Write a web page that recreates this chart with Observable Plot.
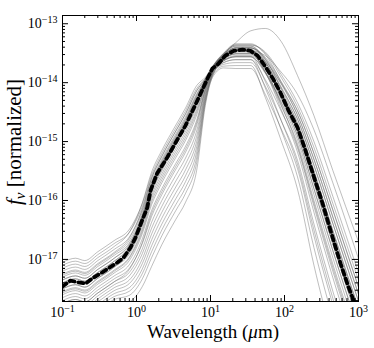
<!DOCTYPE html>
<html><head><meta charset="utf-8">
<script src="https://cdn.jsdelivr.net/npm/d3@7"></script>
<script src="https://cdn.jsdelivr.net/npm/@observablehq/plot@0.6"></script>
<style>body{margin:0;background:#fff}</style>
</head><body><div id="chart"></div>
<script>
// wavelength grid (micron) for the individual SEDs
const grid = [0.1,0.15,0.2,0.3,0.5,0.8,1.2,1.6,2.2,3.4,4.6,6.5,8.5,11,15,22,35,55,90,150,250,450,1000];
// log10 f_nu of the individual SEDs (gray)
const sed01 = [-17.05,-16.98,-17.02,-16.87,-16.68,-16.49,-16.05,-15.57,-15.20,-14.77,-14.48,-14.10,-13.93,-13.71,-13.54,-13.41,-13.41,-13.61,-14.07,-14.62,-15.40,-16.39,-17.71];
const sed02 = [-17.15,-17.08,-17.12,-16.97,-16.78,-16.54,-16.04,-15.52,-15.15,-14.72,-14.43,-14.05,-13.91,-13.70,-13.51,-13.36,-13.36,-13.50,-13.91,-14.41,-15.10,-16.05,-17.35];
const sed03 = [-17.20,-17.13,-17.17,-17.02,-16.83,-16.62,-16.16,-15.67,-15.30,-14.87,-14.58,-14.19,-13.96,-13.75,-13.60,-13.51,-13.51,-13.81,-14.34,-14.97,-15.90,-16.97,-18.31];
const sed04 = [-17.25,-17.18,-17.22,-17.07,-16.88,-16.64,-16.14,-15.62,-15.25,-14.82,-14.53,-14.14,-13.94,-13.71,-13.52,-13.38,-13.38,-13.60,-14.10,-14.69,-15.50,-16.51,-17.83];
const sed05 = [-17.30,-17.23,-17.27,-17.12,-16.93,-16.72,-16.26,-15.77,-15.40,-14.97,-14.68,-14.28,-13.99,-13.74,-13.57,-13.46,-13.46,-13.82,-14.45,-15.18,-16.20,-17.31,-18.67];
const sed06 = [-17.35,-17.28,-17.32,-17.17,-16.98,-16.74,-16.24,-15.72,-15.35,-14.92,-14.63,-14.23,-13.97,-13.70,-13.50,-13.34,-13.34,-13.52,-13.99,-14.55,-15.30,-16.28,-17.59];
const sed07 = [-17.40,-17.33,-17.37,-17.22,-17.03,-16.81,-16.33,-15.82,-15.45,-15.02,-14.73,-14.32,-14.00,-13.77,-13.63,-13.56,-13.56,-13.98,-14.64,-15.39,-16.50,-17.66,-19.03];
const sed08 = [-17.45,-17.38,-17.42,-17.27,-17.08,-16.86,-16.38,-15.87,-15.50,-15.07,-14.78,-14.37,-14.02,-13.73,-13.54,-13.41,-13.41,-13.65,-14.16,-14.76,-15.60,-16.62,-17.95];
const sed09 = [-17.50,-17.43,-17.47,-17.32,-17.13,-16.91,-16.43,-15.92,-15.55,-15.12,-14.83,-14.41,-14.03,-13.79,-13.66,-13.61,-13.61,-14.09,-14.80,-15.60,-16.80,-18.00,-19.39];
const sed10 = [-17.55,-17.48,-17.52,-17.37,-17.18,-16.96,-16.48,-15.97,-15.60,-15.17,-14.88,-14.46,-14.05,-13.72,-13.51,-13.36,-13.36,-13.48,-13.86,-14.34,-15.00,-15.93,-17.23];
const sed11 = [-17.60,-17.53,-17.57,-17.42,-17.23,-17.02,-16.56,-16.07,-15.70,-15.27,-14.98,-14.55,-14.08,-13.77,-13.60,-13.51,-13.51,-13.83,-14.39,-15.04,-16.00,-17.08,-18.43];
const sed12 = [-17.65,-17.58,-17.62,-17.47,-17.28,-17.09,-16.65,-16.17,-15.80,-15.37,-15.08,-14.64,-14.11,-13.76,-13.57,-13.46,-13.46,-13.66,-14.09,-14.62,-15.40,-16.39,-17.71];
const sed13 = [-17.70,-17.63,-17.67,-17.52,-17.33,-17.15,-16.73,-16.27,-15.90,-15.47,-15.18,-14.73,-14.14,-13.82,-13.69,-13.66,-13.66,-14.06,-14.64,-15.32,-16.40,-17.54,-18.91];
const sed14 = [-17.75,-17.68,-17.72,-17.57,-17.38,-17.22,-16.82,-16.37,-16.00,-15.57,-15.28,-14.82,-14.17,-13.75,-13.54,-13.41,-13.41,-13.57,-13.98,-14.48,-15.20,-16.16,-17.47];
const sed15 = [-17.80,-17.73,-17.77,-17.62,-17.43,-17.28,-16.90,-16.47,-16.10,-15.67,-15.38,-14.91,-14.20,-13.80,-13.63,-13.56,-13.56,-13.84,-14.32,-14.90,-15.80,-16.85,-18.19];
const sed16 = [-17.85,-17.78,-17.82,-17.67,-17.48,-17.35,-16.99,-16.57,-16.20,-15.77,-15.48,-15.00,-14.23,-13.85,-13.72,-13.71,-13.71,-14.25,-14.98,-15.81,-17.10,-18.35,-19.75];
const sed17 = [-17.90,-17.83,-17.87,-17.72,-17.53,-17.41,-17.07,-16.67,-16.30,-15.87,-15.58,-15.09,-14.26,-13.78,-13.57,-13.46,-13.46,-13.54,-13.82,-14.20,-14.80,-15.70,-16.99];
const sed18 = [-17.95,-17.88,-17.92,-17.77,-17.58,-17.48,-17.16,-16.77,-16.40,-15.97,-15.68,-15.18,-14.29,-13.83,-13.66,-13.61,-13.61,-13.95,-14.48,-15.11,-16.10,-17.20,-18.55];
const sed19 = [-18.00,-17.93,-17.97,-17.82,-17.63,-17.54,-17.24,-16.87,-16.50,-16.07,-15.78,-15.27,-14.32,-13.88,-13.75,-13.76,-13.76,-14.20,-14.78,-15.46,-16.60,-17.77,-19.15];
const sed20 = [-18.05,-17.98,-18.02,-17.87,-17.68,-17.61,-17.33,-16.97,-16.60,-16.17,-15.88,-15.36,-14.35,-13.78,-13.54,-13.41,-13.41,-13.59,-14.02,-14.55,-15.30,-16.28,-17.59];
const sed21 = [-18.15,-18.08,-18.12,-17.97,-17.78,-17.72,-17.46,-17.12,-16.75,-16.32,-16.03,-15.49,-14.39,-13.84,-13.63,-13.56,-13.56,-13.82,-14.28,-14.83,-15.70,-16.74,-18.07];
const sed22 = [-17.10,-17.03,-17.07,-16.92,-16.73,-16.54,-16.10,-15.62,-15.25,-14.82,-14.53,-14.14,-13.94,-13.73,-13.52,-13.32,-13.12,-13.08,-13.30,-13.88,-14.56,-15.49,-16.70];
const sed23 = [-17.35,-17.28,-17.32,-17.17,-16.98,-16.76,-16.28,-15.77,-15.40,-14.97,-14.68,-14.28,-13.99,-13.75,-13.60,-13.51,-13.51,-13.73,-14.16,-14.69,-15.50,-16.51,-17.83];
const sed24 = [-17.50,-17.43,-17.47,-17.32,-17.13,-16.88,-16.37,-15.84,-15.47,-15.04,-14.75,-14.34,-14.01,-13.74,-13.56,-13.44,-13.44,-13.72,-14.26,-14.90,-15.80,-16.85,-18.19];
const sed25 = [-17.40,-17.33,-17.37,-17.22,-17.03,-16.78,-16.27,-15.74,-15.37,-14.94,-14.65,-14.25,-13.98,-13.74,-13.58,-13.48,-13.48,-13.64,-14.01,-14.48,-15.20,-16.16,-17.47];
const sed26 = [-17.57,-17.50,-17.54,-17.39,-17.20,-16.98,-16.52,-16.02,-15.65,-15.22,-14.93,-14.50,-14.06,-13.73,-13.52,-13.38,-13.38,-13.64,-14.19,-14.83,-15.70,-16.74,-18.07];
const sed27 = [-17.75,-17.68,-17.72,-17.57,-17.38,-17.17,-16.71,-16.22,-15.85,-15.42,-15.13,-14.68,-14.12,-13.78,-13.62,-13.54,-13.54,-13.77,-14.20,-14.73,-15.55,-16.56,-17.89];
const sed28 = [-17.27,-17.20,-17.24,-17.09,-16.90,-16.68,-16.20,-15.70,-15.33,-14.90,-14.61,-14.21,-13.96,-13.73,-13.55,-13.43,-13.43,-13.76,-14.37,-15.08,-16.05,-17.14,-18.49];
const seds = [sed01,sed02,sed03,sed04,sed05,sed06,sed07,sed08,sed09,sed10,sed11,sed12,sed13,sed14,
              sed15,sed16,sed17,sed18,sed19,sed20,sed21,sed22,sed23,sed24,sed25,sed26,sed27,sed28];

// median SED (black dashed)
const medW = [0.1,0.128,0.164,0.205,0.254,0.326,0.419,0.554,0.667,0.83,0.97,1.19,1.40,1.55,1.90,2.60,3.37,4.59,6.61,9.10,10.6,12.8,15.9,20.5,27.1,34.7,43.2,52.0,68.9,88.3,113,150,192,247,327,419,572,733,855,1000];
const medLogF = [-17.46,-17.36,-17.39,-17.41,-17.32,-17.24,-17.15,-17.05,-16.97,-16.80,-16.63,-16.34,-16.12,-15.83,-15.54,-15.27,-15.02,-14.73,-14.31,-13.93,-13.76,-13.68,-13.54,-13.46,-13.44,-13.46,-13.54,-13.68,-13.92,-14.17,-14.47,-14.76,-15.15,-15.58,-16.05,-16.51,-17.07,-17.47,-17.69,-17.95];

// axes
const xDomain = [0.1, 1000];
const yDomain = [1.93e-18, 1.38e-13];
const xMajor = [0.1, 1, 10, 100, 1000];
const xMajorLabels = ["10^−1","10^0","10^1","10^2","10^3"];
const yMajor = [1e-17, 1e-16, 1e-15, 1e-14, 1e-13];
const yMajorLabels = ["10^−17","10^−16","10^−15","10^−14","10^−13"];
const xTitle = "Wavelength (";
const yTitle = "[normalized]";

const W = 374, H = 348, mL = 62, mR = 16, mT = 15, mB = 47;
const FW = W - mL - mR, FH = H - mT - mB;
const isMajor = (v, majors) => majors.some(m => Math.abs(Math.log10(v) - Math.log10(m)) < 1e-6);
const xMinor = d3.scaleLog().domain(xDomain).ticks().filter(v => !isMajor(v, xMajor));
const yMinor = d3.scaleLog().domain(yDomain).ticks().filter(v => !isMajor(v, yMajor) && v >= yDomain[0] && v <= yDomain[1]);

const sedRows = seds.flatMap((s, i) => s.map((v, j) => ({id: i, w: grid[j], f: Math.pow(10, v)})));
const medRows = medW.map((w, j) => ({w, f: Math.pow(10, medLogF[j])}));

const MAJ = 6, MIN = 3;
const font = "Liberation Serif, Times New Roman, serif";

const svg = Plot.plot({
  width: W, height: H,
  marginLeft: mL, marginRight: mR, marginTop: mT, marginBottom: mB,
  style: {background: "white", fontFamily: font},
  x: {type: "log", domain: xDomain, axis: null},
  y: {type: "log", domain: yDomain, axis: null},
  marks: [
    Plot.line(sedRows, {x: "w", y: "f", z: "id", stroke: "#555", strokeOpacity: 0.38, strokeWidth: 1, curve: "monotone-x", clip: true}),
    Plot.line(medRows, {x: "w", y: "f", stroke: "black", strokeWidth: 3.8, strokeDasharray: "5,4", clip: true}),
    // inward ticks, all four sides
    Plot.tickX(xMajor, {x: d => d, insetTop: FH - MAJ, stroke: "black"}),
    Plot.tickX(xMajor, {x: d => d, insetBottom: FH - MAJ, stroke: "black"}),
    Plot.tickX(xMinor, {x: d => d, insetTop: FH - MIN, stroke: "black"}),
    Plot.tickX(xMinor, {x: d => d, insetBottom: FH - MIN, stroke: "black"}),
    Plot.tickY(yMajor, {y: d => d, insetRight: FW - MAJ, stroke: "black"}),
    Plot.tickY(yMajor, {y: d => d, insetLeft: FW - MAJ, stroke: "black"}),
    Plot.tickY(yMinor, {y: d => d, insetRight: FW - MIN, stroke: "black"}),
    Plot.tickY(yMinor, {y: d => d, insetLeft: FW - MIN, stroke: "black"}),
    Plot.frame({stroke: "black", strokeWidth: 1}),
    // tick labels
    Plot.text(xMajor, {x: d => d, frameAnchor: "bottom", dy: 11, text: (d, i) => xMajorLabels[i], fontSize: 14, fill: "black", textAnchor: "middle", lineAnchor: "middle"}),
    Plot.text(yMajor, {y: d => d, frameAnchor: "left", dx: -5, text: (d, i) => yMajorLabels[i], fontSize: 14, fill: "black", textAnchor: "end", lineAnchor: "middle"})
  ]
});

// superscripts for the tick labels
d3.select(svg).selectAll("text").each(function () {
  const t = this.textContent;
  if (t.includes("^")) {
    const [b, e] = t.split("^");
    const sel = d3.select(this);
    sel.text(null);
    sel.append("tspan").text(b);
    sel.append("tspan").attr("dy", "-0.5em").attr("font-size", "10px").text(e);
  }
});

// axis titles
const s = d3.select(svg);
const xt = s.append("text").attr("x", 213).attr("y", 338)
  .attr("text-anchor", "middle").attr("font-family", font).attr("font-size", 19).attr("fill", "black");
xt.append("tspan").text(xTitle);
xt.append("tspan").attr("font-style", "italic").text("μ");
xt.append("tspan").text("m)");

const yt = s.append("text").attr("transform", `translate(21,142) rotate(-90)`)
  .attr("text-anchor", "middle").attr("font-family", font).attr("font-size", 21).attr("fill", "black");
yt.append("tspan").attr("font-style", "italic").text("f");
yt.append("tspan").attr("font-style", "italic").attr("font-size", 15).attr("dy", 4).text("ν");
yt.append("tspan").attr("dy", -4).text(" " + yTitle);

document.getElementById("chart").appendChild(svg);
</script>
</body></html>
